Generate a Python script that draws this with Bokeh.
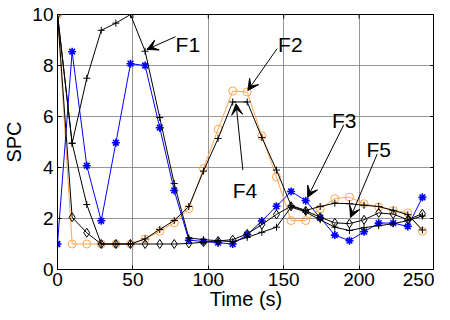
from bokeh.plotting import figure
from bokeh.models import Range1d, Arrow, VeeHead, Label, FixedTicker
from bokeh.embed import file_html
from bokeh.resources import INLINE

# ---- data ----
time_s = [0, 9.7, 19.4, 29.0, 38.7, 48.4, 58.1, 67.8, 77.4, 87.1, 96.8, 106.5, 116.2,
          125.8, 135.5, 145.2, 154.9, 164.6, 174.2, 183.9, 193.6, 203.3, 213.0, 222.6, 232.3, 242.0]

F1 = [10, 4.95, 7.5, 9.38, 9.66, 10.0, 8.56, 5.96, 3.37, 1.24, 1.17, 1.13, 1.09,
      1.26, 1.46, 1.66, 2.45, 2.25, 1.95, 1.66, 1.53, 1.64, 1.72, 1.79, 1.92, 2.1]
F2 = [10, 1.0, 1.0, 1.0, 1.0, 1.0, 1.2, 1.5, 1.83, 2.39, 3.96, 5.5, 7.0,
      6.96, 5.24, 3.63, 1.92, 1.92, 2.38, 2.78, 2.84, 2.58, 2.45, 2.32, 2.22, 1.5]
F3 = [1.0, 8.54, 4.07, 1.91, 4.97, 8.07, 8.0, 5.56, 3.1, 1.15, 1.1, 1.05, 1.0,
      1.37, 1.9, 2.48, 3.06, 2.7, 2.03, 1.35, 1.13, 1.48, 1.82, 1.82, 1.69, 2.83]
F4 = [10, 4.95, 2.55, 1.0, 1.0, 1.0, 1.2, 1.57, 1.92, 2.47, 3.86, 5.14, 6.57,
      6.57, 5.18, 3.9, 2.51, 2.32, 2.47, 2.6, 2.58, 2.52, 2.47, 2.32, 2.15, 1.55]
F5 = [10, 2.05, 1.44, 1.0, 1.0, 1.0, 1.0, 1.0, 1.0, 1.02, 1.07, 1.12, 1.17,
      1.4, 1.76, 2.16, 2.48, 2.3, 2.05, 1.83, 1.8, 1.95, 2.22, 2.17, 1.95, 2.19]

x_ticks = [0, 50, 100, 150, 200, 250]
y_ticks = [0, 2, 4, 6, 8, 10]

FONT = "Liberation Sans"
ORANGE = "#FFA64D"
X_MAX, Y_MAX = 250, 10

p = figure(width=434, height=312, output_backend="svg", toolbar_location=None,
           x_range=Range1d(0, X_MAX), y_range=Range1d(0, Y_MAX),
           min_border_left=50, min_border_right=0, min_border_top=14, min_border_bottom=40,
           x_axis_label="Time (s)", y_axis_label="SPC")
p.outline_line_color = "black"
p.outline_line_width = 1
p.background_fill_color = "white"
p.border_fill_color = "white"

for ax in (p.xaxis[0], p.yaxis[0]):
    ax.major_label_text_font = FONT
    ax.major_label_text_font_size = "19px"
    ax.major_label_text_color = "black"
    ax.axis_label_text_font = FONT
    ax.axis_label_text_font_size = "20px"
    ax.axis_label_text_font_style = "normal"
    ax.axis_label_text_color = "black"
    ax.major_tick_in = 4
    ax.major_tick_out = 0
    ax.minor_tick_in = 0
    ax.minor_tick_out = 0
    ax.axis_line_color = "black"
    ax.major_tick_line_color = "black"
p.xaxis[0].ticker = FixedTicker(ticks=x_ticks)
p.yaxis[0].ticker = FixedTicker(ticks=y_ticks)
p.xaxis[0].major_label_standoff = 3
p.yaxis[0].major_label_standoff = 4
p.xaxis[0].axis_label_standoff = -1
p.yaxis[0].axis_label_standoff = 4

p.xgrid.ticker = FixedTicker(ticks=x_ticks)
p.ygrid.ticker = FixedTicker(ticks=y_ticks)
p.grid.grid_line_color = "#7a7a7a"
p.grid.grid_line_width = 1
p.grid.grid_line_alpha = 0.8

# inward ticks on the top and right edges (box style)
tx = 4 * X_MAX / 370.0
ty = 4 * Y_MAX / 254.0
p.segment(x0=x_ticks, y0=[Y_MAX] * len(x_ticks), x1=x_ticks, y1=[Y_MAX - ty] * len(x_ticks),
          line_color="black", line_width=1)
p.segment(x0=[X_MAX] * len(y_ticks), y0=y_ticks, x1=[X_MAX - tx] * len(y_ticks), y1=y_ticks,
          line_color="black", line_width=1)

# ---- series ----
p.line(time_s, F2, line_color=ORANGE, line_width=1)
p.scatter(time_s, F2, marker="circle", size=8, line_color=ORANGE, fill_color=None, line_width=1)

p.line(time_s, F3, line_color="#0000FF", line_width=1)
p.scatter(time_s, F3, marker="asterisk", size=8, line_color="#0000FF", line_width=1.6)

p.line(time_s, F4, line_color="black", line_width=1)
p.scatter(time_s, F4, marker="cross", size=7, line_color="black", line_width=1)

p.line(time_s, F5, line_color="black", line_width=1)
p.scatter(time_s, F5, marker="diamond", size=9, line_color="black", fill_color=None, line_width=1)

p.line(time_s, F1, line_color="black", line_width=1)
p.scatter(time_s, F1, marker="cross", size=7, line_color="black", line_width=1)

# ---- annotations ----
labels = [("F1", 78.3, 8.83), ("F2", 146.3, 8.83), ("F3", 182.0, 5.84),
          ("F5", 204.9, 4.71), ("F4", 116.2, 3.08)]
for txt, lx, ly in labels:
    p.add_layout(Label(x=lx, y=ly, text=txt, text_font=FONT, text_font_size="21px",
                       text_color="black", text_align="left", text_baseline="alphabetic"))

arrows = [(78.3, 9.13, 59.3, 8.63), (145.6, 8.66, 126.2, 7.02), (189.8, 5.67, 165.9, 2.83),
          (212.0, 4.53, 194.3, 2.04), (122.9, 3.9, 118.4, 6.5)]
for x0, y0, x1, y1 in arrows:
    p.add_layout(Arrow(x_start=x0, y_start=y0, x_end=x1, y_end=y1, line_color="black", line_width=1,
                       end=VeeHead(size=11, fill_color="black", line_color="black")))

open("out.html", "w").write(file_html(p, INLINE))
